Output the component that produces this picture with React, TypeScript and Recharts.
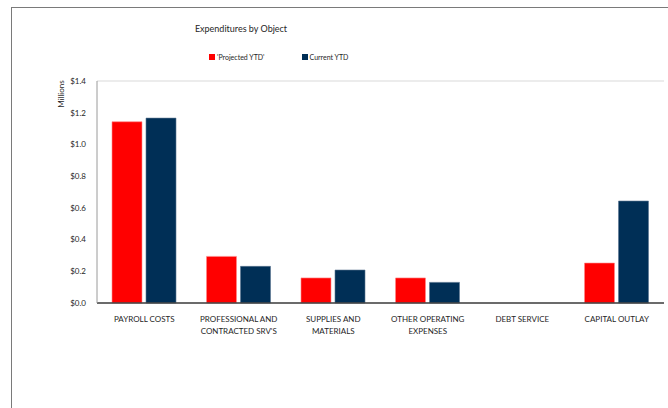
import React from "react";
import { BarChart, Bar, XAxis, YAxis, CartesianGrid, Legend } from "recharts";

const categories = [
  "PAYROLL COSTS",
  "PROFESSIONAL AND CONTRACTED SRV'S",
  "SUPPLIES AND MATERIALS",
  "OTHER OPERATING EXPENSES",
  "DEBT SERVICE",
  "CAPITAL OUTLAY",
];
const categoryLabelLines = [
  ["PAYROLL COSTS"],
  ["PROFESSIONAL AND", "CONTRACTED SRV'S"],
  ["SUPPLIES AND", "MATERIALS"],
  ["OTHER OPERATING", "EXPENSES"],
  ["DEBT SERVICE"],
  ["CAPITAL OUTLAY"],
];
const projectedYTD = [1.143, 0.294, 0.158, 0.158, 0, 0.252];
const currentYTD = [1.166, 0.231, 0.208, 0.13, 0, 0.643];
const yTicks = [0, 0.2, 0.4, 0.6, 0.8, 1.0, 1.2, 1.4];
const seriesNames = ["'Projected YTD'", "Current YTD"];
const colors = ["#FF0000", "#002F56"];

const data = categories.map((c, i) => ({
  name: c,
  projected: projectedYTD[i],
  current: currentYTD[i],
}));

const FONT = "Lato, 'Open Sans', sans-serif";

const XTick = (props: any) => {
  const { x, y, payload } = props;
  const idx = categories.indexOf(payload.value);
  const lines = idx >= 0 ? categoryLabelLines[idx] : [payload.value];
  return (
    <text x={x} y={y} textAnchor="middle" fontSize={8} fontFamily={FONT} fill="#262626">
      {lines.map((l: string, i: number) => (
        <tspan key={i} x={x} dy={i === 0 ? 5 : 12}>
          {l}
        </tspan>
      ))}
    </text>
  );
};

const LegendContent = () => (
  <div style={{ display: "flex", fontFamily: FONT, fontSize: 7, color: "#262626" }}>
    {seriesNames.map((n, i) => (
      <div key={n} style={{ display: "flex", alignItems: "center", marginRight: i === 0 ? 37 : 0 }}>
        <span style={{ display: "inline-block", width: 6, height: 6, background: colors[i], marginRight: 2 }} />
        <span>{n}</span>
      </div>
    ))}
  </div>
);

export default function App() {
  return (
    <div style={{ position: "absolute", left: 0, top: 0, width: 668, height: 408, overflow: "hidden", background: "#fff" }}>
      <div
        style={{
          position: "absolute",
          left: 11,
          top: 7,
          width: 700,
          height: 420,
          border: "1px solid #7a7a7a",
        }}
      />
      <div
        style={{
          position: "absolute",
          left: 0,
          width: 482,
          top: 23,
          textAlign: "center",
          fontFamily: FONT,
          fontSize: 9,
          color: "#262626",
        }}
      >
        Expenditures by Object
      </div>
      <div style={{ position: "absolute", left: 0, top: 0 }}>
        <BarChart
          width={668}
          height={408}
          data={data}
          margin={{ top: 81, right: 4, left: 0, bottom: 75 }}
          barSize={30}
          barGap={4}
        >
          <CartesianGrid horizontal={true} vertical={false} stroke="#d9d9d9" />
          <XAxis
            dataKey="name"
            xAxisId="b"
            tick={<XTick />}
            tickLine={false}
            axisLine={{ stroke: "#404040", strokeWidth: 1.5 }}
            interval={0}
            height={30}
            tickMargin={8}
          />
          <XAxis xAxisId="t" orientation="top" dataKey="name" tick={false} tickLine={false} axisLine={{ stroke: "#9a9a9a" }} height={0} />
          <YAxis
            yAxisId="l"
            width={97}
            domain={[0, 1.4]}
            ticks={yTicks}
            tickFormatter={(v: number) => `$${v.toFixed(1)}`}
            tick={{ fontSize: 8, fontFamily: FONT, fill: "#262626" }}
            tickLine={false}
            tickSize={0}
            tickMargin={11}
            axisLine={{ stroke: "#9a9a9a" }}
            interval={0}
          />
          <YAxis yAxisId="r" orientation="right" width={0} tick={false} tickLine={false} axisLine={{ stroke: "#9a9a9a" }} domain={[0, 1.4]} />
          <Legend
            layout="horizontal"
            verticalAlign="middle"
            align="center"
            content={<LegendContent />}
            wrapperStyle={{ position: "absolute", top: 53, left: 209, width: "auto" }}
          />
          <Bar xAxisId="b" yAxisId="l" dataKey="projected" name={seriesNames[0]} fill={colors[0]} stroke="#ff8a8a" strokeWidth={0.6} isAnimationActive={false} />
          <Bar xAxisId="b" yAxisId="l" dataKey="current" name={seriesNames[1]} fill={colors[1]} stroke="#5a7590" strokeWidth={0.6} isAnimationActive={false} />
        </BarChart>
      </div>
      <div
        style={{
          position: "absolute",
          left: 61,
          top: 94,
          transform: "translate(-50%, -50%) rotate(-90deg)",
          fontFamily: FONT,
          fontSize: 8,
          color: "#262626",
          whiteSpace: "nowrap",
        }}
      >
        Millions
      </div>
    </div>
  );
}
